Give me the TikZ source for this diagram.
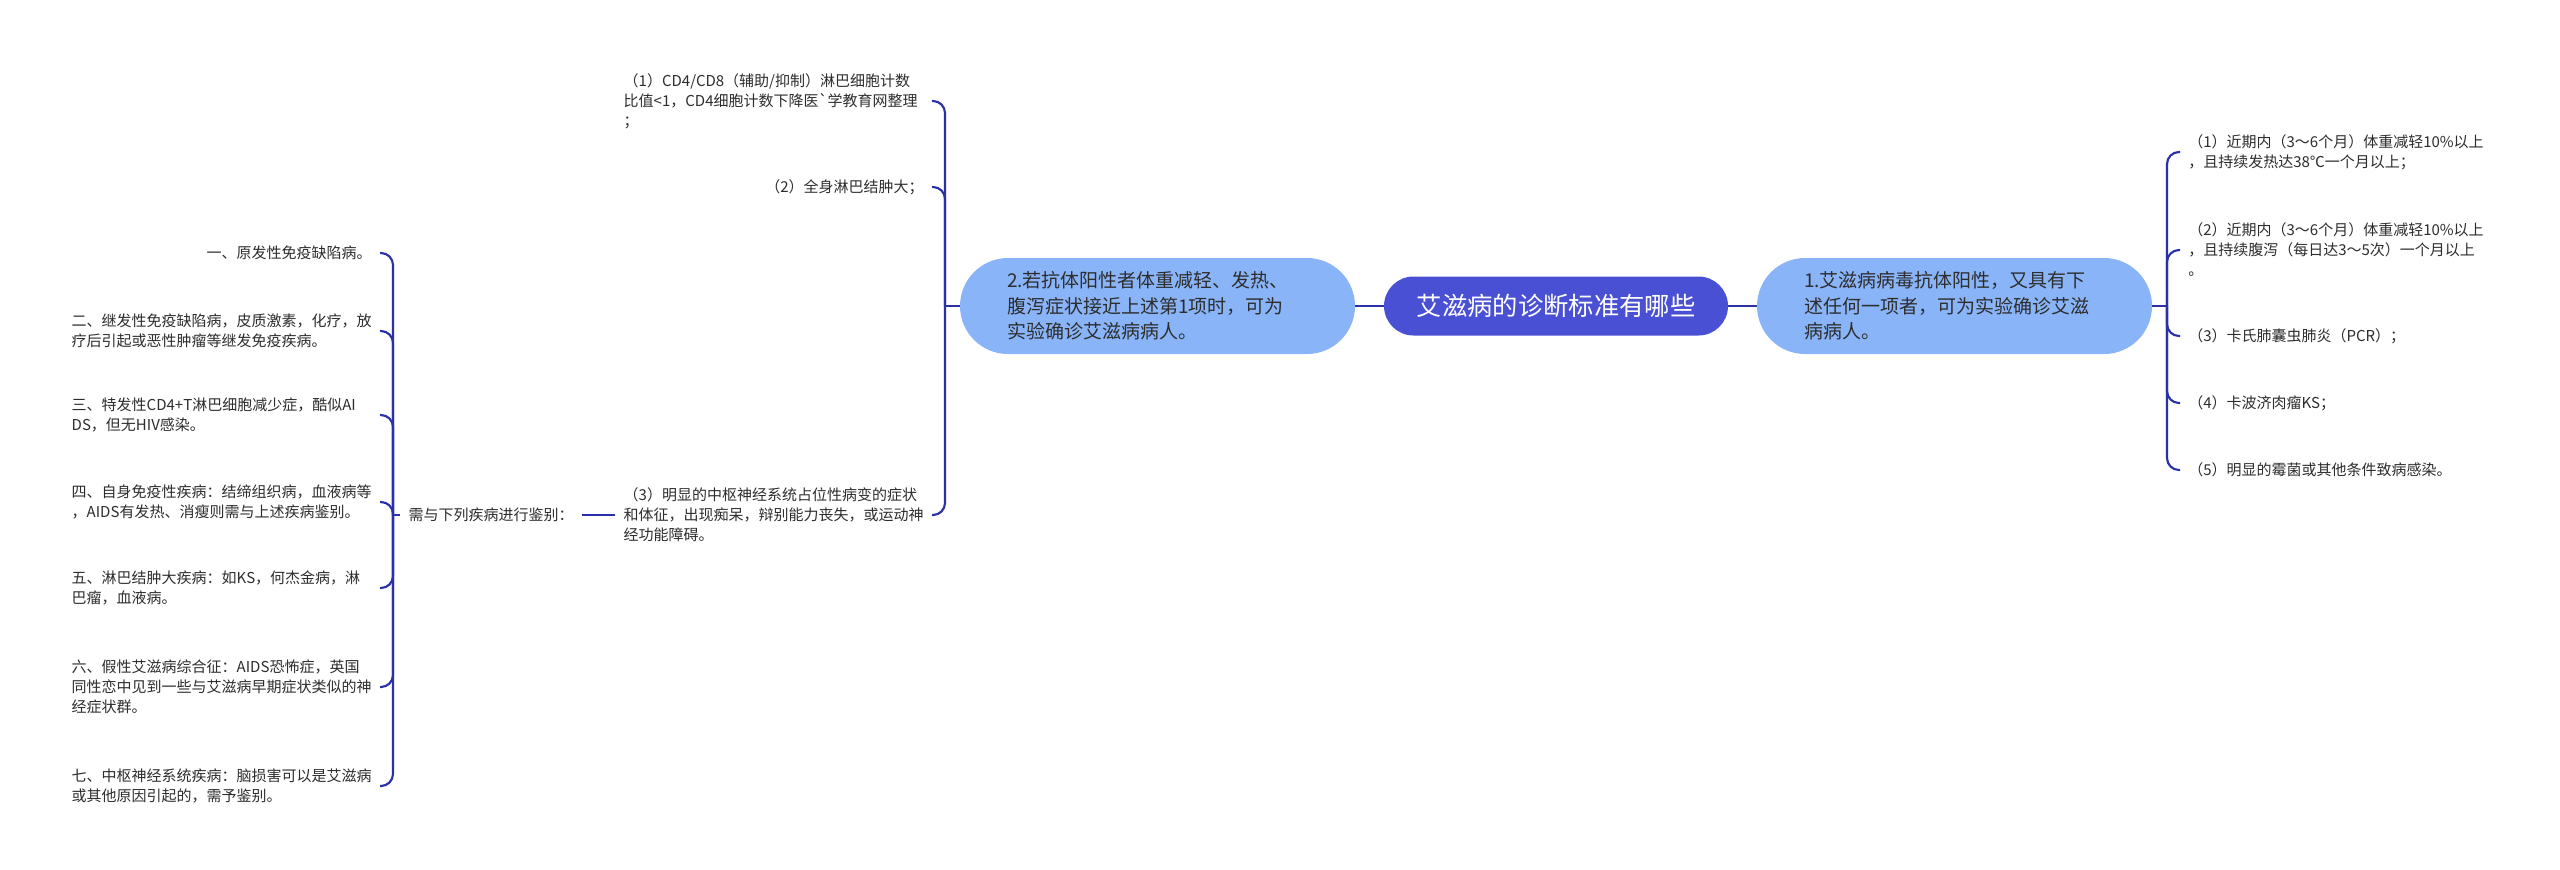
\documentclass[tikz,border=0pt]{standalone}
\usepackage{fontspec}
\newfontfamily\cjk{Noto Sans CJK SC}
\usetikzlibrary{shapes.misc}
\definecolor{lineblue}{RGB}{42,48,168}
\definecolor{centerblue}{RGB}{74,80,212}
\definecolor{branchblue}{RGB}{138,180,248}
\definecolor{txt}{RGB}{45,45,45}
\begin{document}
\begin{tikzpicture}[x=0.75pt,y=-0.75pt,
  conn/.style={draw=lineblue,line width=1.6pt,rounded corners=9pt},
  centerbox/.style={rounded rectangle,fill=centerblue,text=white,font=\cjk\fontsize{19}{23}\selectfont,minimum width=258pt,minimum height=44.25pt,inner sep=0pt},
  branchbox/.style={rounded rectangle,fill=branchblue,text=txt,font=\cjk\fontsize{14.25}{19}\selectfont,minimum width=296.25pt,minimum height=72pt,text width=225.75pt,align=left,inner sep=0pt},
  leaf/.style={font=\cjk\fontsize{11.25}{15}\selectfont,text=txt,align=left,inner xsep=6pt,inner ysep=0pt},
  wide/.style={text width=225pt},
]
\fill[white] (0,0) rectangle (2560,869);
\useasboundingbox (0,0) rectangle (2560,869);

% main nodes
\node[centerbox] (c) at (1556,306) {艾滋病的诊断标准有哪些};
\node[branchbox] (b2) at (1157.5,306) {2.若抗体阳性者体重减轻、发热、\\腹泻症状接近上述第1项时，可为\\实验确诊艾滋病病人。};
\node[branchbox] (b1) at (1954.5,306) {1.艾滋病病毒抗体阳性，又具有下\\述任何一项者，可为实验确诊艾滋\\病病人。};

% right leaves
\node[leaf,anchor=west] (r1) at (2180,152) {（1）近期内（3～6个月）体重减轻10\%以上\\，且持续发热达38℃一个月以上；};
\node[leaf,anchor=west] (r2) at (2180,250) {（2）近期内（3～6个月）体重减轻10\%以上\\，且持续腹泻（每日达3～5次）一个月以上\\。};
\node[leaf,anchor=west] (r3) at (2180,336) {（3）卡氏肺囊虫肺炎（PCR）；};
\node[leaf,anchor=west] (r4) at (2180,403) {（4）卡波济肉瘤KS；};
\node[leaf,anchor=west] (r5) at (2180,470) {（5）明显的霉菌或其他条件致病感染。};

% left leaves of branch 2
\node[leaf,wide,anchor=east] (l1) at (932,101) {（1）CD4/CD8（辅助/抑制）淋巴细胞计数\\比值<1，CD4细胞计数下降医`学教育网整理\\；};
\node[leaf,anchor=east] (l2) at (932,187) {（2）全身淋巴结肿大；};
\node[leaf,wide,anchor=east] (l3) at (932,515) {（3）明显的中枢神经系统占位性病变的症状\\和体征，出现痴呆，辩别能力丧失，或运动神\\经功能障碍。};

% differential node
\node[leaf,anchor=east] (n) at (582,515) {需与下列疾病进行鉴别：};

% its leaves
\node[leaf,anchor=east] (k1) at (380,253) {一、原发性免疫缺陷病。};
\node[leaf,wide,anchor=east] (k2) at (380,331) {二、继发性免疫缺陷病，皮质激素，化疗，放\\疗后引起或恶性肿瘤等继发免疫疾病。};
\node[leaf,wide,anchor=east] (k3) at (380,415) {三、特发性CD4+T淋巴细胞减少症，酷似AI\\DS，但无HIV感染。};
\node[leaf,wide,anchor=east] (k4) at (380,502) {四、自身免疫性疾病：结缔组织病，血液病等\\，AIDS有发热、消瘦则需与上述疾病鉴别。};
\node[leaf,wide,anchor=east] (k5) at (380,588) {五、淋巴结肿大疾病：如KS，何杰金病，淋\\巴瘤，血液病。};
\node[leaf,wide,anchor=east] (k6) at (380,687) {六、假性艾滋病综合征：AIDS恐怖症，英国\\同性恋中见到一些与艾滋病早期症状类似的神\\经症状群。};
\node[leaf,wide,anchor=east] (k7) at (380,786) {七、中枢神经系统疾病：脑损害可以是艾滋病\\或其他原因引起的，需予鉴别。};

% join points
\coordinate (jr) at (2167,306);
\coordinate (jl) at (945,306);
\coordinate (jn) at (393,515);

% connectors
\draw[conn] (c.west) -- (b2.east);
\draw[conn] (c.east) -- (b1.west);
\draw[conn] (b1.east) -- (jr);
\foreach \t in {r1,r2,r3,r4,r5} \draw[conn] (jr) |- (\t.west);
\draw[conn] (b2.west) -- (jl);
\foreach \t in {l1,l2,l3} \draw[conn] (jl) |- (\t.east);
\draw[conn] (l3.west) -- (n.east);
\draw[conn] (n.west) -- (jn);
\foreach \t in {k1,k2,k3,k4,k5,k6,k7} \draw[conn] (jn) |- (\t.east);
\end{tikzpicture}
\end{document}
